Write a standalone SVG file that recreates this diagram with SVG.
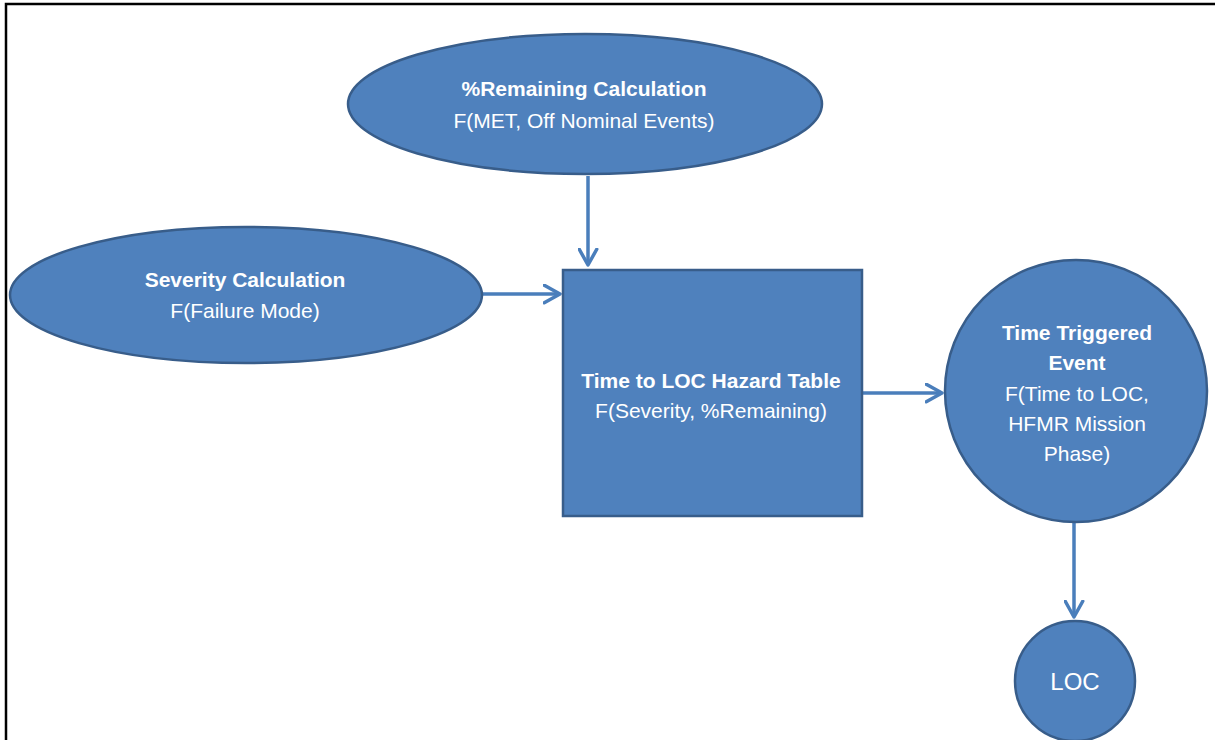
<svg xmlns="http://www.w3.org/2000/svg" width="1215" height="740" viewBox="0 0 1215 740">
<defs>
<style>
.node{fill:#4f81bd;stroke:#385d8a;stroke-width:2.5}
.t{font-family:"Liberation Sans",Arial,sans-serif;font-size:21px;fill:#ffffff;text-anchor:middle}
.b{font-weight:bold}
.conn{stroke:#4a7ebb;stroke-width:3.5;fill:none;marker-end:url(#arr)}
</style>
<marker id="arr" viewBox="0 0 12 12" refX="10" refY="6" markerWidth="6" markerHeight="6" markerUnits="strokeWidth" orient="auto">
<path d="M1,1 L10,6 L1,11" fill="none" stroke="#4a7ebb" stroke-width="2" stroke-linecap="round" stroke-linejoin="round"/>
</marker>
</defs>
<rect width="1215" height="740" fill="#ffffff"/>
<path d="M6,740 V4 H1215" fill="none" stroke="#000" stroke-width="2.5"/>
<g id="connectors">
<line class="conn" x1="588" y1="176" x2="588" y2="265"/>
<line class="conn" x1="481" y1="294" x2="560" y2="294"/>
<line class="conn" x1="863" y1="393" x2="942" y2="393"/>
<line class="conn" x1="1074" y1="522" x2="1074" y2="617"/>
</g>
<g id="remaining">
<ellipse class="node" cx="585" cy="104" rx="237" ry="70"/>
<text class="t b" x="584" y="96">%Remaining Calculation</text>
<text class="t" x="584" y="128">F(MET, Off Nominal Events)</text>
</g>
<g id="severity">
<ellipse class="node" cx="246" cy="295" rx="236" ry="68"/>
<text class="t b" x="245" y="287">Severity Calculation</text>
<text class="t" x="245" y="318">F(Failure Mode)</text>
</g>
<g id="hazard">
<rect class="node" x="563" y="270" width="299" height="246"/>
<text class="t b" x="711" y="388">Time to LOC Hazard Table</text>
<text class="t" x="711" y="418">F(Severity, %Remaining)</text>
</g>
<g id="trigger">
<circle class="node" cx="1076" cy="391" r="131"/>
<text class="t b" x="1077" y="340">Time Triggered</text>
<text class="t b" x="1077" y="370">Event</text>
<text class="t" x="1077" y="401">F(Time to LOC,</text>
<text class="t" x="1077" y="431">HFMR Mission</text>
<text class="t" x="1077" y="461">Phase)</text>
</g>
<g id="loc">
<circle class="node" cx="1075" cy="681" r="60"/>
<text class="t" x="1075" y="690" style="font-size:24px">LOC</text>
</g>
</svg>
